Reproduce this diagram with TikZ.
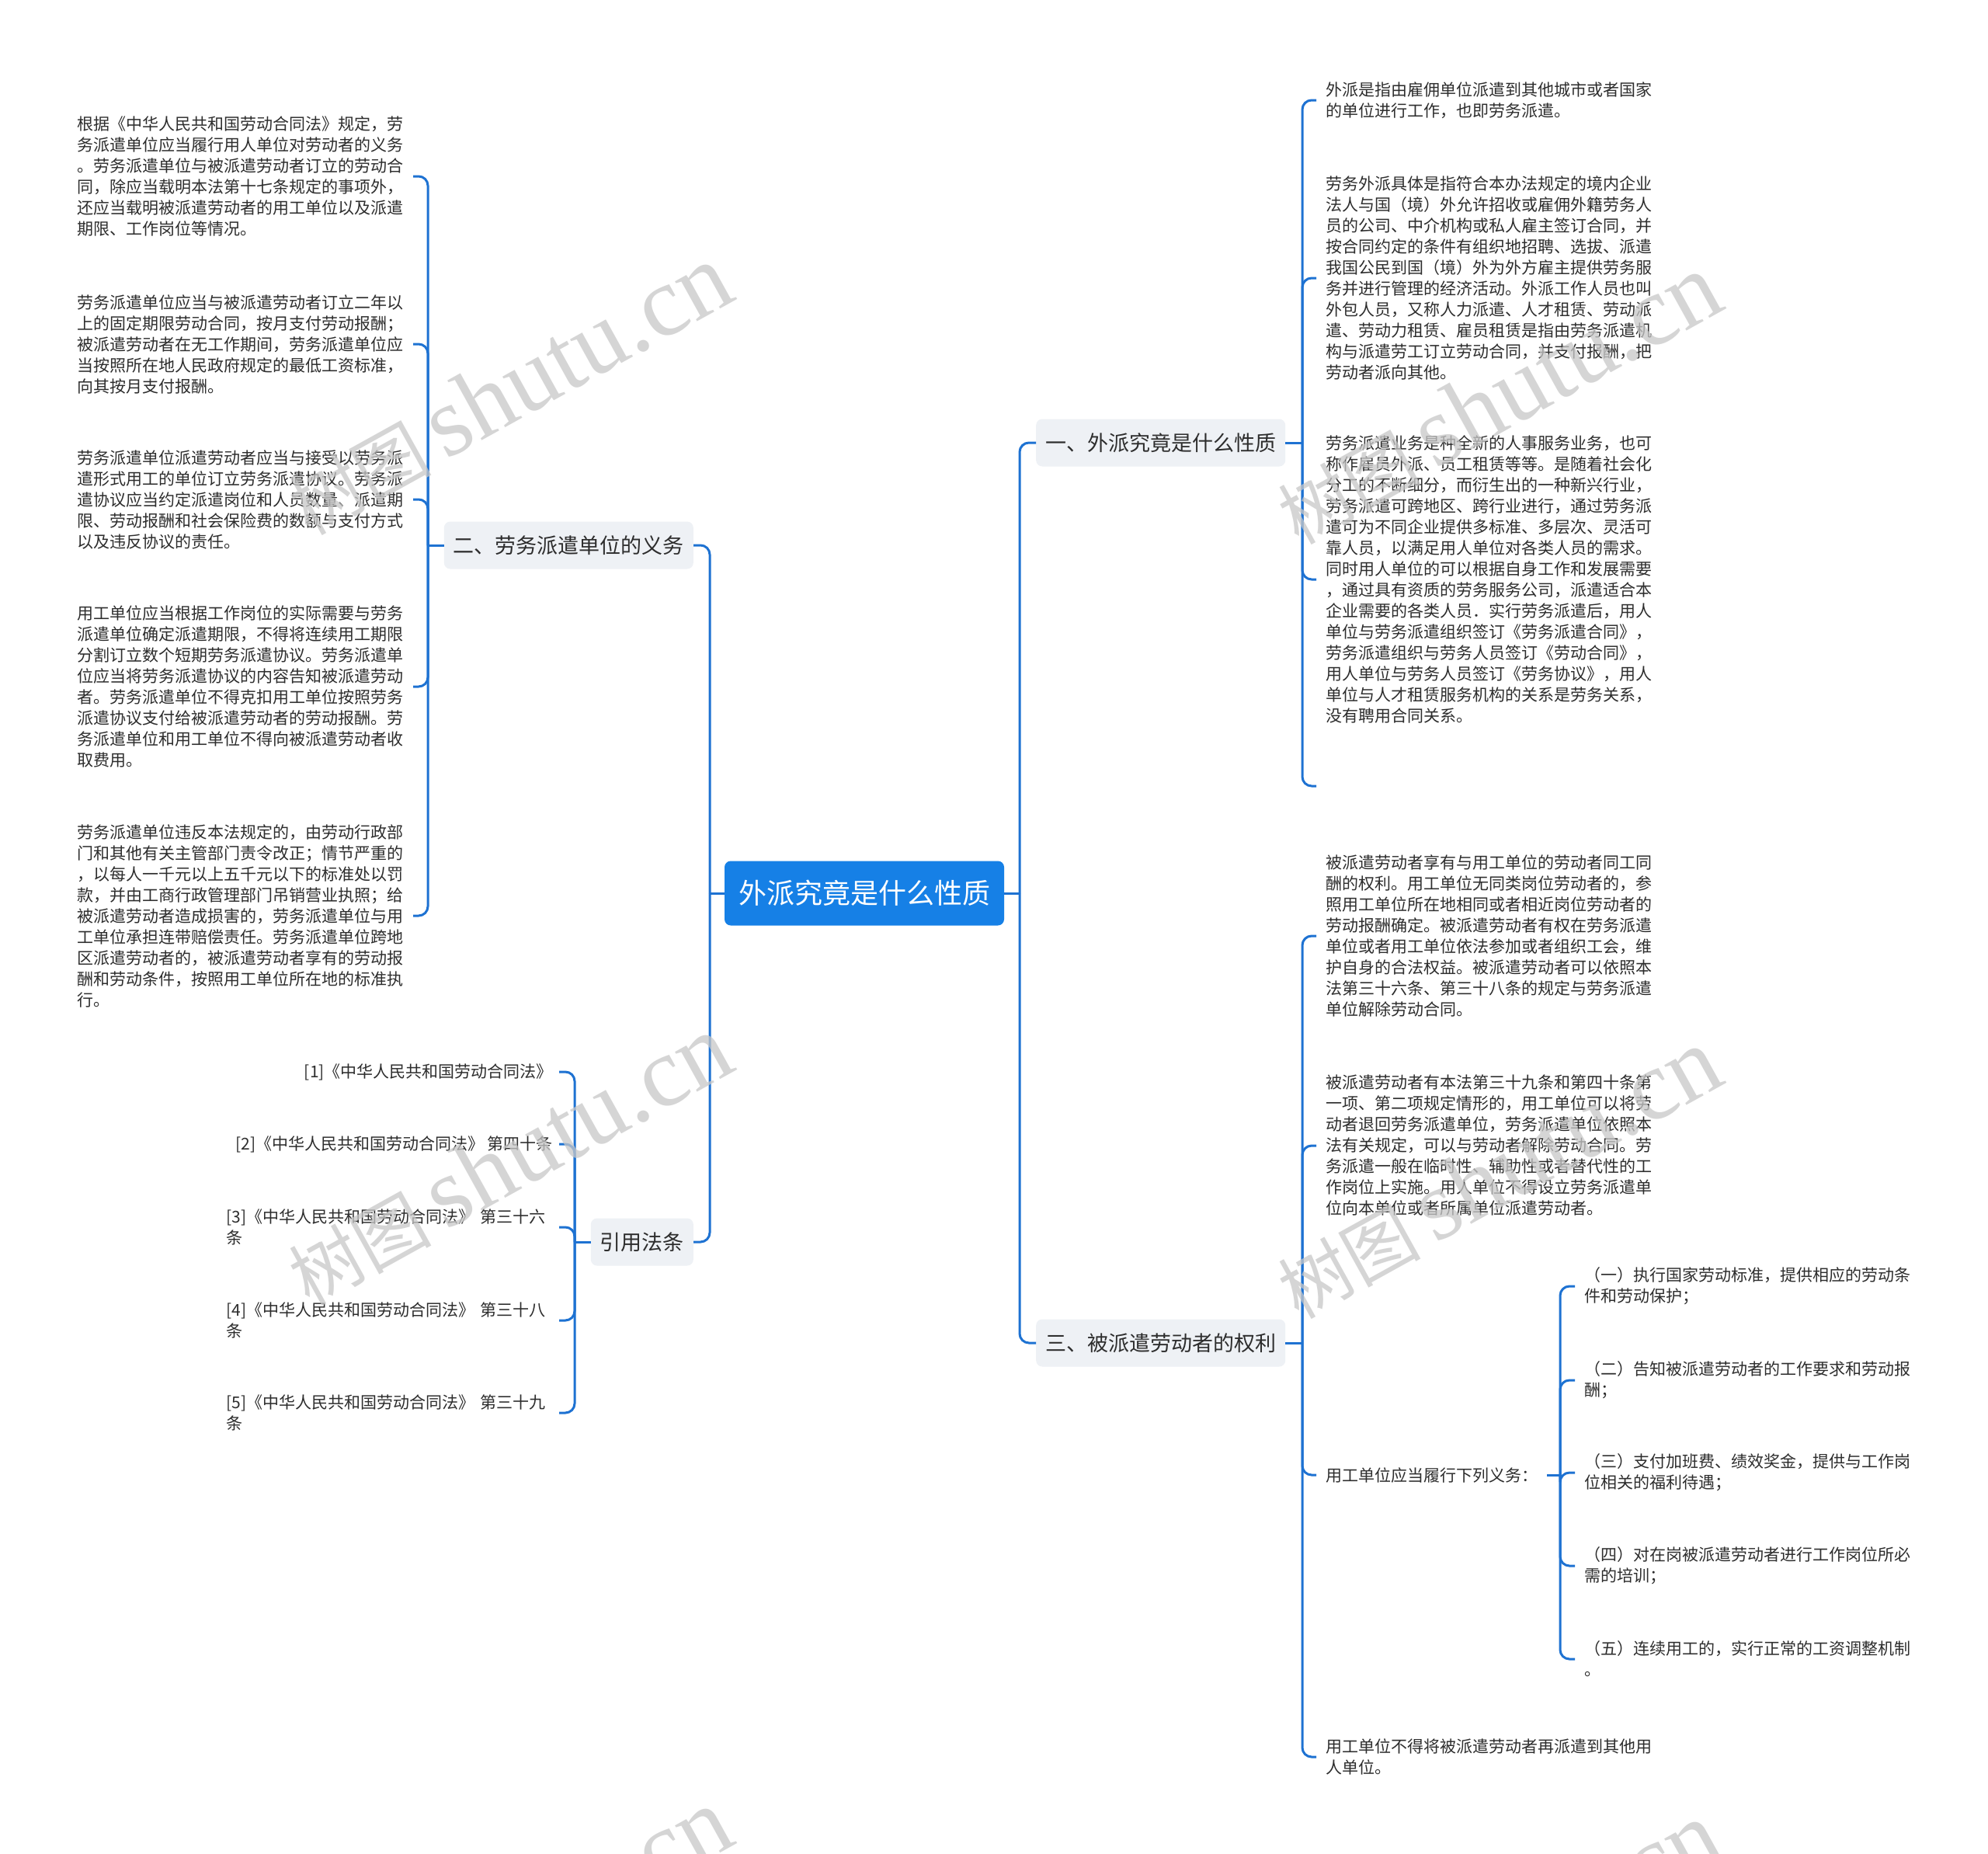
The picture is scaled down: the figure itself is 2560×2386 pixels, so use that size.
\documentclass[tikz,border=0pt]{standalone}
\usepackage{fontspec}
\setmainfont{Noto Sans CJK SC}
\newfontfamily\wmserif{Liberation Serif}
\usetikzlibrary{calc}
\definecolor{linkblue}{RGB}{30,114,210}
\definecolor{rootblue}{RGB}{22,128,230}
\definecolor{boxgray}{RGB}{238,241,245}
\definecolor{leaftext}{RGB}{45,45,45}
\definecolor{wmgray}{RGB}{200,200,200}
\tikzset{
  rootbox/.style={fill=rootblue, rounded corners=8pt, text=white, font=\fontsize{36}{40}\selectfont, inner xsep=18pt, minimum height=83pt},
  topicbox/.style={fill=boxgray, rounded corners=8pt, text=leaftext, font=\fontsize{27}{32}\selectfont, inner xsep=12pt, minimum height=61pt},
  leaf/.style={text width=420pt, align=left, inner xsep=12pt, inner ysep=3pt, font=\fontsize{21}{27}\selectfont, text=leaftext},
  leafnw/.style={align=left, inner xsep=12pt, inner ysep=3pt, font=\fontsize{21}{27}\selectfont, text=leaftext},
  refleaf/.style={align=left, inner xsep=8pt, inner ysep=3pt, font=\fontsize{21}{27}\selectfont, text=leaftext, anchor=east},
  refwide/.style={refleaf, text width=420pt},
  link/.style={draw=linkblue, line width=3pt, rounded corners=12pt},
  wm/.style={text=wmgray, opacity=0.75, rotate=29, inner sep=0pt}
}
\begin{document}
\begin{tikzpicture}[x=1pt,y=-1pt]
\fill[white] (0,0) rectangle (2560,2386);
\useasboundingbox (0,0) rectangle (2560,2386);

% root and main topics
\node[rootbox] (root) at (1113,1150) {外派究竟是什么性质};
\node[topicbox, anchor=east] (t2) at (893,702) {二、劳务派遣单位的义务};
\node[topicbox, anchor=east] (t3) at (893,1599) {引用法条};
\node[topicbox, anchor=west] (t1) at (1334,570) {一、外派究竟是什么性质};
\node[topicbox, anchor=west] (t4) at (1334,1729) {三、被派遣劳动者的权利};

% junctions
\coordinate (jl) at (914,1150);
\coordinate (jr) at (1313,1150);
\coordinate (j2) at (551,702);
\coordinate (j3) at (740,1599);
\coordinate (j1) at (1677,570);
\coordinate (j4) at (1677,1729);
\coordinate (j6) at (2009,1899);
\coordinate (e1) at (1695,1012);

% left leaves (二)
\node[leaf, anchor=east] (a1) at (532,227) {根据《中华人民共和国劳动合同法》规定，劳\\务派遣单位应当履行用人单位对劳动者的义务\\。劳务派遣单位与被派遣劳动者订立的劳动合\\同，除应当载明本法第十七条规定的事项外，\\还应当载明被派遣劳动者的用工单位以及派遣\\期限、工作岗位等情况。};
\node[leaf, anchor=east] (a2) at (532,443) {劳务派遣单位应当与被派遣劳动者订立二年以\\上的固定期限劳动合同，按月支付劳动报酬；\\被派遣劳动者在无工作期间，劳务派遣单位应\\当按照所在地人民政府规定的最低工资标准，\\向其按月支付报酬。};
\node[leaf, anchor=east] (a3) at (532,643) {劳务派遣单位派遣劳动者应当与接受以劳务派\\遣形式用工的单位订立劳务派遣协议。劳务派\\遣协议应当约定派遣岗位和人员数量、派遣期\\限、劳动报酬和社会保险费的数额与支付方式\\以及违反协议的责任。};
\node[leaf, anchor=east] (a4) at (532,884) {用工单位应当根据工作岗位的实际需要与劳务\\派遣单位确定派遣期限，不得将连续用工期限\\分割订立数个短期劳务派遣协议。劳务派遣单\\位应当将劳务派遣协议的内容告知被派遣劳动\\者。劳务派遣单位不得克扣用工单位按照劳务\\派遣协议支付给被派遣劳动者的劳动报酬。劳\\务派遣单位和用工单位不得向被派遣劳动者收\\取费用。};
\node[leaf, anchor=east] (a5) at (532,1179) {劳务派遣单位违反本法规定的，由劳动行政部\\门和其他有关主管部门责令改正；情节严重的\\，以每人一千元以上五千元以下的标准处以罚\\款，并由工商行政管理部门吊销营业执照；给\\被派遣劳动者造成损害的，劳务派遣单位与用\\工单位承担连带赔偿责任。劳务派遣单位跨地\\区派遣劳动者的，被派遣劳动者享有的劳动报\\酬和劳动条件，按照用工单位所在地的标准执\\行。};

% references
\node[refleaf] (r1) at (720,1380) {[1]《中华人民共和国劳动合同法》};
\node[refleaf] (r2) at (720,1473) {[2]《中华人民共和国劳动合同法》 第四十条};
\node[refwide] (r3) at (720,1580) {[3]《中华人民共和国劳动合同法》 第三十六\\条};
\node[refwide] (r4) at (720,1700) {[4]《中华人民共和国劳动合同法》 第三十八\\条};
\node[refwide] (r5) at (720,1819) {[5]《中华人民共和国劳动合同法》 第三十九\\条};

% right leaves (一)
\node[leaf, anchor=west] (b1) at (1695,129) {外派是指由雇佣单位派遣到其他城市或者国家\\的单位进行工作，也即劳务派遣。};
\node[leaf, anchor=west] (b2) at (1695,358) {劳务外派具体是指符合本办法规定的境内企业\\法人与国（境）外允许招收或雇佣外籍劳务人\\员的公司、中介机构或私人雇主签订合同，并\\按合同约定的条件有组织地招聘、选拔、派遣\\我国公民到国（境）外为外方雇主提供劳务服\\务并进行管理的经济活动。外派工作人员也叫\\外包人员，又称人力派遣、人才租赁、劳动派\\遣、劳动力租赁、雇员租赁是指由劳务派遣机\\构与派遣劳工订立劳动合同，并支付报酬，把\\劳动者派向其他。};
\node[leaf, anchor=west] (b3) at (1695,746) {劳务派遣业务是种全新的人事服务业务，也可\\称作雇员外派、员工租赁等等。是随着社会化\\分工的不断细分，而衍生出的一种新兴行业，\\劳务派遣可跨地区、跨行业进行，通过劳务派\\遣可为不同企业提供多标准、多层次、灵活可\\靠人员，以满足用人单位对各类人员的需求。\\同时用人单位的可以根据自身工作和发展需要\\，通过具有资质的劳务服务公司，派遣适合本\\企业需要的各类人员．实行劳务派遣后，用人\\单位与劳务派遣组织签订《劳务派遣合同》，\\劳务派遣组织与劳务人员签订《劳动合同》，\\用人单位与劳务人员签订《劳务协议》，用人\\单位与人才租赁服务机构的关系是劳务关系，\\没有聘用合同关系。};

% right leaves (三)
\node[leaf, anchor=west] (c1) at (1695,1205) {被派遣劳动者享有与用工单位的劳动者同工同\\酬的权利。用工单位无同类岗位劳动者的，参\\照用工单位所在地相同或者相近岗位劳动者的\\劳动报酬确定。被派遣劳动者有权在劳务派遣\\单位或者用工单位依法参加或者组织工会，维\\护自身的合法权益。被派遣劳动者可以依照本\\法第三十六条、第三十八条的规定与劳务派遣\\单位解除劳动合同。};
\node[leaf, anchor=west] (c2) at (1695,1475) {被派遣劳动者有本法第三十九条和第四十条第\\一项、第二项规定情形的，用工单位可以将劳\\动者退回劳务派遣单位，劳务派遣单位依照本\\法有关规定，可以与劳动者解除劳动合同。劳\\务派遣一般在临时性、辅助性或者替代性的工\\作岗位上实施。用人单位不得设立劳务派遣单\\位向本单位或者所属单位派遣劳动者。};
\node[leafnw, anchor=west] (c3) at (1695,1899) {用工单位应当履行下列义务：};
\node[leaf, anchor=west] (c4) at (1695,2262) {用工单位不得将被派遣劳动者再派遣到其他用\\人单位。};

% obligations
\node[leaf, anchor=west] (d1) at (2028,1656) {（一）执行国家劳动标准，提供相应的劳动条\\件和劳动保护；};
\node[leaf, anchor=west] (d2) at (2028,1777) {（二）告知被派遣劳动者的工作要求和劳动报\\酬；};
\node[leaf, anchor=west] (d3) at (2028,1896) {（三）支付加班费、绩效奖金，提供与工作岗\\位相关的福利待遇；};
\node[leaf, anchor=west] (d4) at (2028,2016) {（四）对在岗被派遣劳动者进行工作岗位所必\\需的培训；};
\node[leaf, anchor=west] (d5) at (2028,2136) {（五）连续用工的，实行正常的工资调整机制\\。};

% connectors
\draw[link] (root.west) -- (jl);
\draw[link] (jl) |- (t2.east);
\draw[link] (jl) |- (t3.east);
\draw[link] (root.east) -- (jr);
\draw[link] (jr) |- (t1.west);
\draw[link] (jr) |- (t4.west);

\draw[link] (t2.west) -- (j2);
\foreach \n in {a1,a2,a3,a4,a5} \draw[link] (j2) |- (\n.east);

\draw[link] (t3.west) -- (j3);
\foreach \n in {r1,r2,r3,r4,r5} \draw[link] (j3) |- (\n.east);

\draw[link] (t1.east) -- (j1);
\foreach \n in {b1,b2,b3} \draw[link] (j1) |- (\n.west);
\draw[link] (j1) |- (e1);

\draw[link] (t4.east) -- (j4);
\foreach \n in {c1,c2,c3,c4} \draw[link] (j4) |- (\n.west);

\draw[link] (c3.east) -- (j6);
\foreach \n in {d1,d2,d3,d4,d5} \draw[link] (j6) |- (\n.west);

% watermarks
\foreach \name/\px/\py in {wm1/655/502, wm2/1929/514, wm3/655/1494, wm4/1929/1511, wm5/655/2490, wm6/1929/2507}
  \node[wm] (\name) at (\px,\py) {{\fontsize{92}{92}\selectfont 树图}\hspace{18pt}{\wmserif\fontsize{128}{128}\selectfont shutu.cn}};
\end{tikzpicture}
\end{document}
